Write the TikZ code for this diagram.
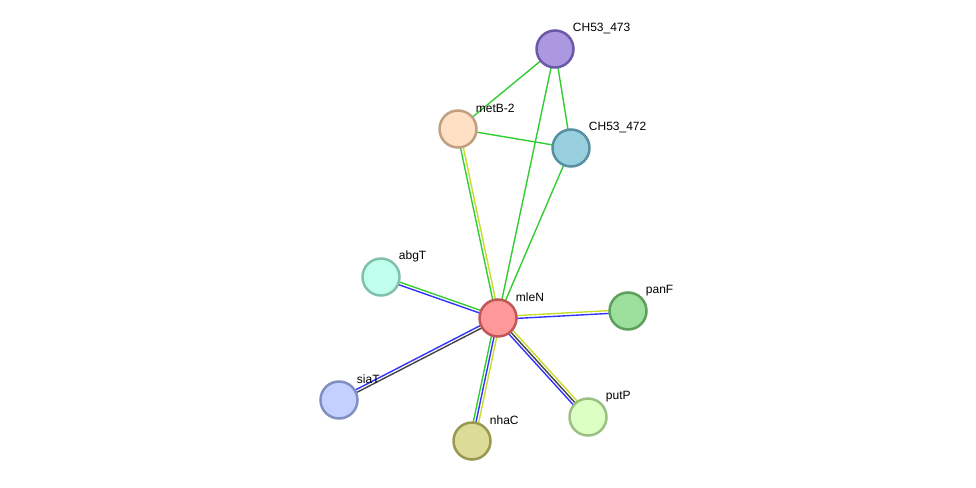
\documentclass[tikz,border=0pt]{standalone}
\usepackage{fontspec}
\setmainfont{Liberation Sans}
\usetikzlibrary{calc,backgrounds}

\definecolor{lgreen}{HTML}{33CC33}
\definecolor{lblue}{HTML}{3333FF}
\definecolor{lyellow}{HTML}{C8DC2C}
\definecolor{lgray}{HTML}{444444}

\definecolor{mleNfill}{HTML}{FF9898}   \definecolor{mleNline}{HTML}{C05858}
\definecolor{chAfill}{HTML}{AC98E0}    \definecolor{chAline}{HTML}{6C58A8}
\definecolor{metBfill}{HTML}{FFE0C4}   \definecolor{metBline}{HTML}{C0A080}
\definecolor{chBfill}{HTML}{98D0E0}    \definecolor{chBline}{HTML}{5890A0}
\definecolor{abgTfill}{HTML}{C0FFEC}   \definecolor{abgTline}{HTML}{80C0AC}
\definecolor{panFfill}{HTML}{9CDF9C}   \definecolor{panFline}{HTML}{5CA05C}
\definecolor{siaTfill}{HTML}{C4D0FF}   \definecolor{siaTline}{HTML}{8090C0}
\definecolor{nhaCfill}{HTML}{DCDC98}   \definecolor{nhaCline}{HTML}{989850}
\definecolor{putPfill}{HTML}{DCFFC4}   \definecolor{putPline}{HTML}{9CC084}

% one line of an edge, shifted sideways by #2
\newcommand{\strand}[4]{\draw[edge, #1] ($(#3.center)!#2!90:(#4.center)$) -- ($(#4.center)!#2!-90:(#3.center)$);}

\tikzset{
  prot/.style={circle, minimum size=37pt, inner sep=0pt, line width=2.5pt, fill=#1fill, draw=#1line},
  lbl/.style={xshift=-2pt, yshift=20.5pt, font=\fontsize{12}{14}\selectfont, inner sep=0pt},
  edge/.style={line width=1.4pt},
}

\begin{document}
\begin{tikzpicture}[x=1pt, y=-1pt]
			\useasboundingbox (0,0) rectangle (976,487);

			\node[prot=mleN, label={[lbl]0:mleN}] (mleN) at (498, 318) {};
			\node[prot=chA, label={[lbl]0:CH53\_473}] (ch473) at (555, 49) {};
			\node[prot=metB, label={[lbl]0:metB-2}] (metB) at (458, 129) {};
			\node[prot=chB, label={[lbl]0:CH53\_472}] (ch472) at (571, 148) {};
			\node[prot=abgT, label={[lbl]0:abgT}] (abgT) at (381, 277) {};
			\node[prot=panF, label={[lbl]0:panF}] (panF) at (628, 311) {};
			\node[prot=siaT, label={[lbl]0:siaT}] (siaT) at (339, 400) {};
			\node[prot=nhaC, label={[lbl]0:nhaC}] (nhaC) at (472, 441) {};
			\node[prot=putP, label={[lbl]0:putP}] (putP) at (588, 417) {};

			\begin{pgfonlayer}{background}
			% textmining / co-expression edges
			\strand{lgreen}{0pt}{metB}{ch473}
			\strand{lgreen}{0pt}{metB}{ch472}
			\strand{lgreen}{0pt}{ch473}{ch472}
			\strand{lgreen}{0pt}{mleN}{ch473}
			\strand{lgreen}{0pt}{mleN}{ch472}

			\strand{lgreen}{1.4pt}{mleN}{metB}
			\strand{lyellow}{-1.4pt}{mleN}{metB}

			\strand{lgreen}{-1.4pt}{mleN}{abgT}
			\strand{lblue}{1.4pt}{mleN}{abgT}

			\strand{lblue}{-1.4pt}{mleN}{siaT}
			\strand{lgray}{1.4pt}{mleN}{siaT}

			\strand{lyellow}{1.4pt}{mleN}{panF}
			\strand{lblue}{-1.4pt}{mleN}{panF}

			\strand{lgreen}{-2.7pt}{mleN}{nhaC}
			\strand{lblue}{0pt}{mleN}{nhaC}
			\strand{lyellow}{2.7pt}{mleN}{nhaC}

			\strand{lblue}{-2.7pt}{mleN}{putP}
			\strand{lgray}{0pt}{mleN}{putP}
			\strand{lyellow}{2.7pt}{mleN}{putP}
			\end{pgfonlayer}
		\end{tikzpicture}
\end{document}
